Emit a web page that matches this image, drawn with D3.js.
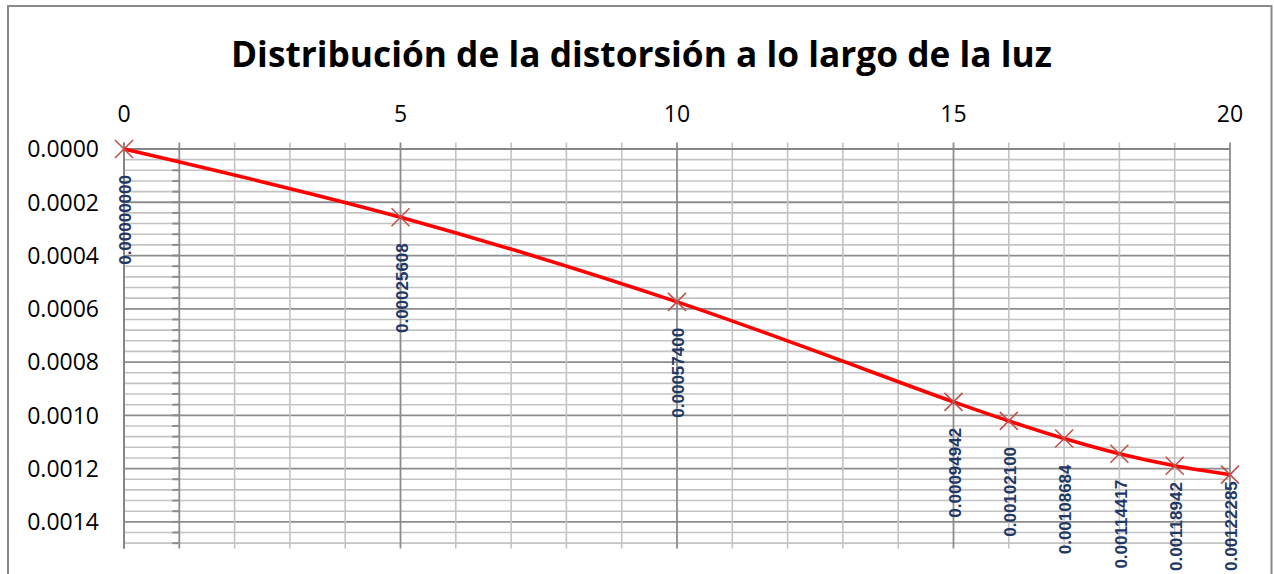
<!DOCTYPE html>
<html>
<head>
<meta charset="utf-8">
<script src="https://cdn.jsdelivr.net/npm/d3@7"></script>
<style>
  html, body { margin: 0; padding: 0; background: #fff; }
  svg { display: block; }
</style>
</head>
<body>
<svg id="chart" width="1274" height="574"></svg>
<script>
// Span positions (m) and measured deflection at each
const positions = [0, 5, 10, 15, 16, 17, 18, 19, 20];
const deflections = [0, 0.00025608, 0.00057400, 0.00094942, 0.00102100, 0.00108684, 0.00114417, 0.00118942, 0.00122285];
const deflectionLabels = ["0.00000000", "0.00025608", "0.00057400", "0.00094942", "0.00102100", "0.00108684", "0.00114417", "0.00118942", "0.00122285"];

// Axis ticks
const xTicks = [0, 5, 10, 15, 20];
const xTickLabels = ["0", "5", "10", "15", "20"];
const yTicks = [0, 0.0002, 0.0004, 0.0006, 0.0008, 0.0010, 0.0012, 0.0014];
const yTickLabels = ["0.0000", "0.0002", "0.0004", "0.0006", "0.0008", "0.0010", "0.0012", "0.0014"];
const xDomain = [0, 20];
const yDomain = [0, 0.0015];
const xMinorStep = 1;
const yMinorStep = 0.00004;

const title = "Distribución de la distorsión a lo largo de la luz";

const svg = d3.select("#chart");
const W = 1274, H = 574;

const plot = { left: 124, right: 1230, top: 149, bottom: 548.5 };

const x = d3.scaleLinear().domain(xDomain).range([plot.left, plot.right]);
const y = d3.scaleLinear().domain(yDomain).range([plot.top, plot.bottom]);

// Chart frame
svg.append("rect")
  .attr("x", 8).attr("y", 6)
  .attr("width", 1263.5).attr("height", 600)
  .attr("fill", "#fff")
  .attr("stroke", "#8a8a8a").attr("stroke-width", 2);

// Title
svg.append("text")
  .attr("x", 641.5).attr("y", 67)
  .attr("text-anchor", "middle")
  .attr("font-family", "'Open Sans', sans-serif")
  .attr("font-weight", "bold")
  .attr("font-size", 36)
  .attr("textLength", 821)
  .attr("lengthAdjust", "spacingAndGlyphs")
  .attr("fill", "#000")
  .text(title);

const grid = svg.append("g");

// Minor / major horizontal gridlines
const yMinor = d3.range(0, yDomain[1] + 1e-12, yMinorStep).filter(v => v <= yDomain[1]);
const isMajorY = v => yTicks.some(t => Math.abs(t - v) < 1e-9);
grid.selectAll("line.hy")
  .data(yMinor)
  .join("line")
  .attr("x1", plot.left).attr("x2", plot.right)
  .attr("y1", d => y(d)).attr("y2", d => y(d))
  .attr("stroke", d => isMajorY(d) ? "#8c8c8c" : "#c3c3c3")
  .attr("stroke-width", d => isMajorY(d) ? 1.8 : 1.6);

// Vertical gridlines with upward tick marks
const xMinor = d3.range(xDomain[0], xDomain[1] + 1e-9, xMinorStep);
const isMajorX = v => xTicks.includes(v);
grid.selectAll("line.vx")
  .data(xMinor)
  .join("line")
  .attr("x1", d => x(d)).attr("x2", d => x(d))
  .attr("y1", plot.top - 6.5).attr("y2", plot.bottom)
  .attr("stroke", d => (isMajorX(d) || d === 1) ? "#8c8c8c" : "#c3c3c3")
  .attr("stroke-width", d => (isMajorX(d) || d === 1) ? 1.8 : 1.6);

// Small ticks on the secondary vertical rule
grid.selectAll("line.sub")
  .data(yMinor)
  .join("line")
  .attr("x1", x(1) - 7).attr("x2", x(1))
  .attr("y1", d => y(d)).attr("y2", d => y(d))
  .attr("stroke", "#8c8c8c")
  .attr("stroke-width", 2);

// Axis lines
grid.append("line")
  .attr("x1", plot.left).attr("x2", plot.right)
  .attr("y1", plot.top).attr("y2", plot.top)
  .attr("stroke", "#868686").attr("stroke-width", 2);
grid.append("line")
  .attr("x1", plot.left).attr("x2", plot.left)
  .attr("y1", plot.top - 6.5).attr("y2", plot.bottom)
  .attr("stroke", "#868686").attr("stroke-width", 2);

// Axis labels
svg.append("g").selectAll("text")
  .data(xTicks)
  .join("text")
  .attr("x", d => x(d)).attr("y", 122)
  .attr("text-anchor", "middle")
  .attr("font-family", "'Open Sans', sans-serif")
  .attr("font-size", 23)
  .attr("fill", "#000")
  .text((d, i) => xTickLabels[i]);

svg.append("g").selectAll("text")
  .data(yTicks)
  .join("text")
  .attr("x", 99).attr("y", d => y(d))
  .attr("dy", "0.36em")
  .attr("text-anchor", "end")
  .attr("font-family", "'Open Sans', sans-serif")
  .attr("font-size", 23)
  .attr("fill", "#000")
  .text((d, i) => yTickLabels[i]);

// Data
const points = positions.map((p, i) => ({ x: p, y: deflections[i], label: deflectionLabels[i] }));

const line = d3.line()
  .x(d => x(d.x)).y(d => y(d.y))
  .curve(d3.curveCatmullRom.alpha(0.5));

svg.append("path")
  .datum(points)
  .attr("d", line)
  .attr("fill", "none")
  .attr("stroke", "#ff0000")
  .attr("stroke-width", 3.6)
  .attr("stroke-linejoin", "round");

// X-shaped markers
const m = 9;
const markers = svg.append("g").selectAll("g")
  .data(points)
  .join("g")
  .attr("transform", d => `translate(${x(d.x)},${y(d.y)})`);
markers.append("line")
  .attr("x1", -m).attr("y1", -m).attr("x2", m).attr("y2", m)
  .attr("stroke", "#c0504d").attr("stroke-width", 1.6);
markers.append("line")
  .attr("x1", -m).attr("y1", m).attr("x2", m).attr("y2", -m)
  .attr("stroke", "#c0504d").attr("stroke-width", 1.6);

// Value labels, rotated, below each point; kept inside the chart's lower edge
const labelBottomLimit = 571;
const labels = svg.append("g").selectAll("text")
  .data(points)
  .join("text")
  .attr("text-anchor", "end")
  .attr("dy", "0.36em")
  .attr("font-family", "'Liberation Sans', Arial, sans-serif")
  .attr("font-weight", "bold")
  .attr("font-size", 17)
  .attr("fill", "#1f3864")
  .text(d => d.label);
labels.each(function (d) {
  const len = this.getComputedTextLength();
  const top = Math.min(y(d.y) + 26, labelBottomLimit - len);
  d3.select(this).attr("transform", `translate(${x(d.x) + 1},${top}) rotate(-90)`);
});
</script>
</body>
</html>
